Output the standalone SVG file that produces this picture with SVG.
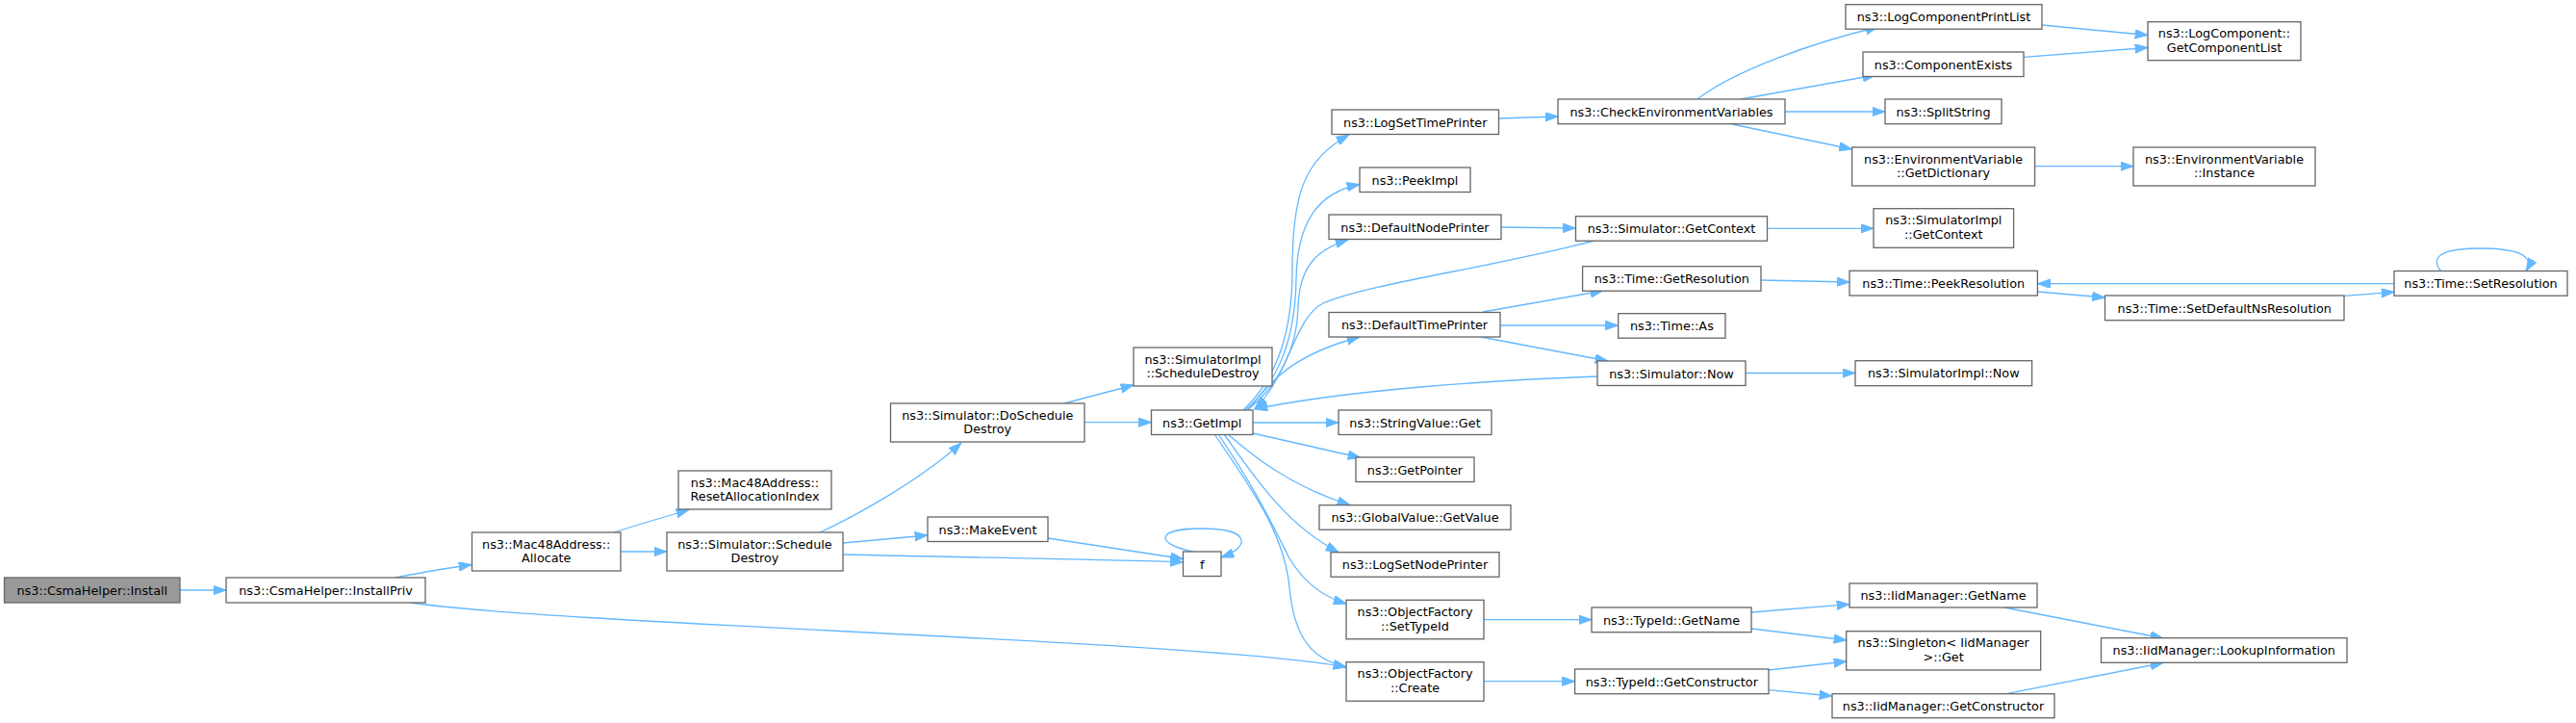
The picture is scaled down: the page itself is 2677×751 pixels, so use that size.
<svg xmlns="http://www.w3.org/2000/svg" width="2677" height="751" viewBox="0 0 2677 751">
<style>
rect{fill:#ffffff;stroke:#666666;stroke-width:1.3}
rect.root{fill:#999999}
text{font-family:"DejaVu Sans","Liberation Sans",sans-serif;font-size:12.8px;text-anchor:middle;fill:#000000}
#edges path{fill:none;stroke:#63b8ff;stroke-width:1.3;marker-end:url(#ah)}
</style>
<defs>
<marker id="ah" markerUnits="userSpaceOnUse" markerWidth="14" markerHeight="10" refX="13.3" refY="4.7" orient="auto">
<path d="M0,0 L13.3,4.7 L0,9.4 Z" fill="#63b8ff" stroke="#63b8ff" stroke-width="1"/>
</marker>
</defs>
<rect x="0" y="0" width="2677" height="751" style="fill:#ffffff;stroke:none"/>
<g id="edges">
<path d="M187,613 L235,613"/>
<path d="M411,600 C430,596 460,591 490,586.5"/>
<path d="M426,626 C600,650 1250,665 1399,693"/>
<path d="M638,553 C660,546 690,537 716,529.5"/>
<path d="M645,573 L693,573"/>
<path d="M852,553 C885,538 955,500 999,460"/>
<path d="M876,564 L964,556"/>
<path d="M876,576 C1000,579 1150,581 1229.5,584"/>
<path d="M1089,559 L1229.5,580.5"/>
<path d="M1240,573 C1200,565 1200,549 1249,549 C1300,549 1300,568 1269,579"/>
<path d="M1106,419 L1178,400"/>
<path d="M1127,438.7 L1196.5,438.7"/>
<path d="M1292,426 C1330,390 1343,340 1343,280 C1343,200 1356,165 1402,140"/>
<path d="M1294,426 C1330,395 1346,350 1347,290 C1348,230 1370,200 1413,191.5"/>
<path d="M1296,426 C1330,400 1348,360 1349,320 C1350,280 1365,260 1401,249"/>
<path d="M1657,250 C1550,278 1420,295 1375,315 C1345,330 1340,390 1304,424.5"/>
<path d="M1297,426 C1320,395 1345,368 1413,350"/>
<path d="M1660,391 C1550,395 1400,405 1304,425"/>
<path d="M1302,439 L1391,439"/>
<path d="M1302,450 L1414,475.5"/>
<path d="M1276,451 C1300,472 1340,505 1403,524.5"/>
<path d="M1272,451 C1300,490 1335,545 1391,573.5"/>
<path d="M1266,451 C1300,500 1320,540 1340,580 C1355,605 1375,620 1399,627"/>
<path d="M1262,451 C1310,520 1335,560 1340,610 C1345,665 1365,685 1399,693"/>
<path d="M1558,123 L1619,121"/>
<path d="M1560,236 L1637.5,237"/>
<path d="M1541,324 L1666,302"/>
<path d="M1559,338 L1681.7,338"/>
<path d="M1539,350 L1671,375"/>
<path d="M1836.6,237.3 L1947,237.3"/>
<path d="M1830,291 L1922,293"/>
<path d="M1814,387.5 L1928,387.5"/>
<path d="M1764,103 C1800,75 1880,45 1952,28"/>
<path d="M1809,103 L1949,78"/>
<path d="M1855,116 L1959,116"/>
<path d="M1800,129 L1924.6,155"/>
<path d="M2122,26 L2232,36.5"/>
<path d="M2103,59.3 L2232,49.5"/>
<path d="M2114.6,172.7 L2217,172.7"/>
<path d="M2117,303 L2187.5,309"/>
<path d="M2436,307.3 L2488,303.3"/>
<path d="M2488,294.7 L2117.4,294.7"/>
<path d="M2537,282 C2525,268 2535,258 2577,258 C2615,258 2635,265 2625,281.5"/>
<path d="M1542,643.7 L1654,643.7"/>
<path d="M1542,707.7 L1636.6,707.7"/>
<path d="M1820,636 L1922,627.7"/>
<path d="M1820,653 L1919,665"/>
<path d="M1838,696 L1919,687"/>
<path d="M1838,716.7 L1904,723"/>
<path d="M2083,631 L2248,663"/>
<path d="M2085,720.7 L2248,688.5"/>
</g>
<g id="n_install"><rect class="root" x="4.5" y="600" width="182.5" height="26"/><text x="95.75" y="617.5">ns3::CsmaHelper::Install</text></g>
<g id="n_installpriv"><rect x="235" y="600" width="207" height="26"/><text x="338.5" y="617.5">ns3::CsmaHelper::InstallPriv</text></g>
<g id="n_allocate"><rect x="490.5" y="553" width="154.5" height="40"/><text x="567.75" y="569.5">ns3::Mac48Address::</text><text x="567.75" y="584">Allocate</text></g>
<g id="n_reset"><rect x="705" y="489" width="159" height="40"/><text x="784.5" y="505.5">ns3::Mac48Address::</text><text x="784.5" y="520">ResetAllocationIndex</text></g>
<g id="n_schedule"><rect x="693" y="553" width="183" height="40"/><text x="784.5" y="569.5">ns3::Simulator::Schedule</text><text x="784.5" y="584">Destroy</text></g>
<g id="n_doschedule"><rect x="925.5" y="419" width="201.5" height="40"/><text x="1026.25" y="435.5">ns3::Simulator::DoSchedule</text><text x="1026.25" y="450">Destroy</text></g>
<g id="n_makeevent"><rect x="964" y="537" width="125" height="25.5"/><text x="1026.5" y="554.5">ns3::MakeEvent</text></g>
<g id="n_f"><rect x="1229.5" y="573" width="39.5" height="25.5"/><text x="1249.25" y="590.5">f</text></g>
<g id="n_simimpl_sd"><rect x="1178" y="361" width="144" height="40"/><text x="1250" y="377.5">ns3::SimulatorImpl</text><text x="1250" y="392">::ScheduleDestroy</text></g>
<g id="n_getimpl"><rect x="1196.5" y="426" width="105.5" height="25.5"/><text x="1249.25" y="443.5">ns3::GetImpl</text></g>
<g id="n_logsettimeprinter"><rect x="1384" y="114" width="173.5" height="25.5"/><text x="1470.75" y="131.5">ns3::LogSetTimePrinter</text></g>
<g id="n_peekimpl"><rect x="1413" y="174" width="115" height="25.5"/><text x="1470.5" y="191.5">ns3::PeekImpl</text></g>
<g id="n_defaultnodeprinter"><rect x="1381" y="223" width="179" height="25.5"/><text x="1470.5" y="240.5">ns3::DefaultNodePrinter</text></g>
<g id="n_defaulttimeprinter"><rect x="1381" y="324.5" width="178" height="25.5"/><text x="1470" y="342">ns3::DefaultTimePrinter</text></g>
<g id="n_stringvalue"><rect x="1391" y="426" width="159" height="25.5"/><text x="1470.5" y="443.5">ns3::StringValue::Get</text></g>
<g id="n_getpointer"><rect x="1409" y="475" width="123" height="25.5"/><text x="1470.5" y="492.5">ns3::GetPointer</text></g>
<g id="n_globalvalue"><rect x="1371" y="524.7" width="199" height="25.5"/><text x="1470.5" y="542.2">ns3::GlobalValue::GetValue</text></g>
<g id="n_logsetnodeprinter"><rect x="1383" y="573.7" width="175" height="25.5"/><text x="1470.5" y="591.2">ns3::LogSetNodePrinter</text></g>
<g id="n_settypeid"><rect x="1399" y="623.3" width="143" height="40.5"/><text x="1470.5" y="640">ns3::ObjectFactory</text><text x="1470.5" y="654.5">::SetTypeId</text></g>
<g id="n_create"><rect x="1399" y="687.7" width="143" height="40.5"/><text x="1470.5" y="704.4">ns3::ObjectFactory</text><text x="1470.5" y="718.9">::Create</text></g>
<g id="n_checkenv"><rect x="1619" y="103" width="236" height="25.7"/><text x="1737" y="120.5">ns3::CheckEnvironmentVariables</text></g>
<g id="n_getcontext"><rect x="1637.5" y="224.7" width="199" height="25.5"/><text x="1737" y="242.2">ns3::Simulator::GetContext</text></g>
<g id="n_getresolution"><rect x="1644.6" y="276.7" width="185.4" height="25.5"/><text x="1737.3" y="294.2">ns3::Time::GetResolution</text></g>
<g id="n_timeas"><rect x="1681.7" y="325.7" width="111.3" height="25.5"/><text x="1737.35" y="343.2">ns3::Time::As</text></g>
<g id="n_now"><rect x="1660" y="375" width="154" height="25.5"/><text x="1737" y="392.5">ns3::Simulator::Now</text></g>
<g id="n_typeid_getname"><rect x="1654" y="631" width="166" height="25.7"/><text x="1737" y="648.5">ns3::TypeId::GetName</text></g>
<g id="n_typeid_getconstructor"><rect x="1636.6" y="695" width="201.4" height="25.7"/><text x="1737.3" y="712.5">ns3::TypeId::GetConstructor</text></g>
<g id="n_logcomponentprintlist"><rect x="1918" y="4.7" width="204" height="25.5"/><text x="2020" y="22.2">ns3::LogComponentPrintList</text></g>
<g id="n_componentexists"><rect x="1936" y="54" width="167" height="25.5"/><text x="2019.5" y="71.5">ns3::ComponentExists</text></g>
<g id="n_splitstring"><rect x="1959" y="103" width="121" height="25.7"/><text x="2019.5" y="120.5">ns3::SplitString</text></g>
<g id="n_getdictionary"><rect x="1924.6" y="153" width="190" height="40"/><text x="2019.6" y="169.5">ns3::EnvironmentVariable</text><text x="2019.6" y="184">::GetDictionary</text></g>
<g id="n_simimpl_getcontext"><rect x="1947" y="216.7" width="145.6" height="40.6"/><text x="2019.8" y="233.4">ns3::SimulatorImpl</text><text x="2019.8" y="247.9">::GetContext</text></g>
<g id="n_peekresolution"><rect x="1922" y="281.3" width="195.4" height="25.7"/><text x="2019.7" y="298.8">ns3::Time::PeekResolution</text></g>
<g id="n_simimpl_now"><rect x="1928" y="374.7" width="183.6" height="26"/><text x="2019.8" y="392.2">ns3::SimulatorImpl::Now</text></g>
<g id="n_iid_getname"><rect x="1922" y="606" width="195" height="25"/><text x="2019.5" y="623.3">ns3::IidManager::GetName</text></g>
<g id="n_singleton"><rect x="1918.7" y="655.7" width="202" height="40.3"/><text x="2019.7" y="672.2">ns3::Singleton&lt; IidManager</text><text x="2019.7" y="686.7">&gt;::Get</text></g>
<g id="n_iid_getconstructor"><rect x="1904" y="720.7" width="231" height="25"/><text x="2019.5" y="738">ns3::IidManager::GetConstructor</text></g>
<g id="n_getcomponentlist"><rect x="2232" y="22.7" width="159" height="40"/><text x="2311.5" y="39.2">ns3::LogComponent::</text><text x="2311.5" y="53.7">GetComponentList</text></g>
<g id="n_instance"><rect x="2217" y="153" width="189" height="40"/><text x="2311.5" y="169.5">ns3::EnvironmentVariable</text><text x="2311.5" y="184">::Instance</text></g>
<g id="n_setdefaultns"><rect x="2187.5" y="307" width="248.5" height="25.7"/><text x="2311.75" y="324.5">ns3::Time::SetDefaultNsResolution</text></g>
<g id="n_lookupinfo"><rect x="2183.5" y="662.7" width="255.5" height="25.6"/><text x="2311.25" y="680.2">ns3::IidManager::LookupInformation</text></g>
<g id="n_setresolution"><rect x="2488" y="281.5" width="180" height="25.7"/><text x="2578" y="299">ns3::Time::SetResolution</text></g>
</svg>
